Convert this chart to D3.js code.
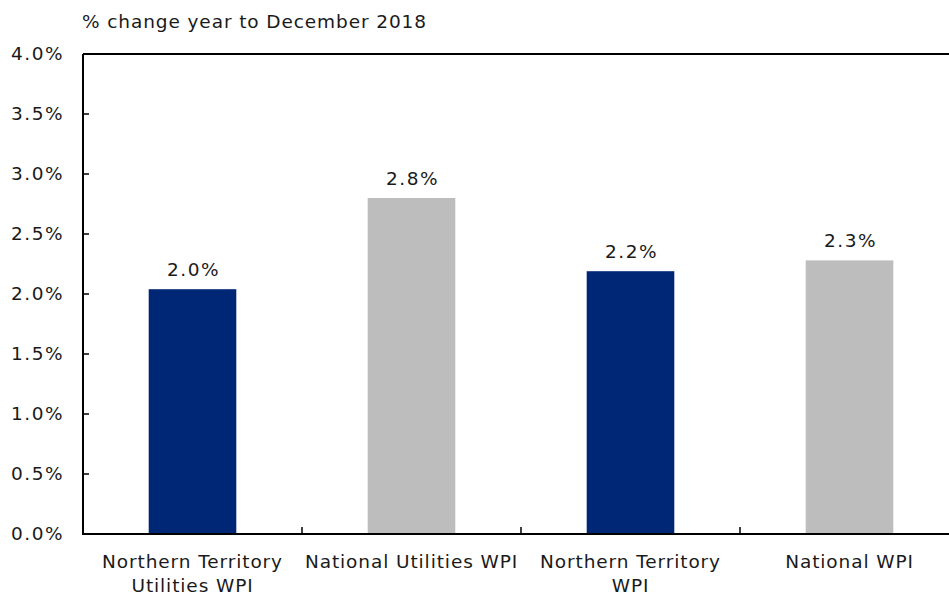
<!DOCTYPE html>
<html><head><meta charset="utf-8">
<script src="https://cdn.jsdelivr.net/npm/d3@7"></script>
<style>body{margin:0;background:#fff}svg{display:block}text{font-family:"DejaVu Sans",Verdana,sans-serif;fill:#1a1a1a}</style>
</head><body><svg id="c" width="949" height="594"></svg>
<script>
const categories = [["Northern Territory","Utilities WPI"],["National Utilities WPI"],["Northern Territory","WPI"],["National WPI"]];
const values = [2.04, 2.8, 2.19, 2.28];
const labels = ["2.0%","2.8%","2.2%","2.3%"];
const colors = ["#002776","#bcbdbc","#002776","#bcbdbc"];
const yTicks = [0,0.5,1,1.5,2,2.5,3,3.5,4];
const title = "% change year to December 2018";

const svg = d3.select("#c");
const m = {l:83, r:959, t:54, b:534};
const x = d3.scaleBand().domain(d3.range(categories.length)).range([m.l, m.r]).paddingInner(0.6).paddingOuter(0.3);
const xb = d3.scaleBand().domain(d3.range(categories.length)).range([m.l, m.r]);
const y = d3.scaleLinear().domain([0,4]).range([m.b, m.t]);
const fs = 18.5;
const lsT = "0.9px", lsN = "1.5px";

svg.append("text").attr("x", 82).attr("y", 28).attr("font-size", fs).attr("letter-spacing", lsT).text(title);

svg.selectAll("rect.bar").data(values).join("rect").attr("class","bar")
  .attr("x",(d,i)=>x(i)).attr("width",x.bandwidth())
  .attr("y",d=>y(d)).attr("height",d=>y(0)-y(d)).attr("fill",(d,i)=>colors[i]);

svg.selectAll("text.val").data(values).join("text").attr("class","val")
  .attr("x",(d,i)=>x(i)+x.bandwidth()/2+1).attr("y",d=>y(d)-13)
  .attr("text-anchor","middle").attr("font-size",fs).attr("letter-spacing", lsN).text((d,i)=>labels[i]);

// y axis
const ya = d3.axisLeft(y).tickValues(yTicks).tickSize(0).tickPadding(19).tickFormat(d=>d3.format(".1f")(d)+"%");
const yg = svg.append("g").attr("transform",`translate(${m.l},0)`).call(ya);
yg.select(".domain").remove();
yg.selectAll("text").attr("font-size",fs).attr("font-family","DejaVu Sans").attr("fill","#1a1a1a").attr("letter-spacing", lsN);
svg.selectAll("line.yt").data(yTicks).join("line").attr("class","yt")
  .attr("x1",m.l).attr("x2",m.l+6).attr("y1",d=>y(d)).attr("y2",d=>y(d)).attr("stroke","#000").attr("stroke-width",1.5);

// frame
svg.append("line").attr("x1",m.l).attr("x2",m.l).attr("y1",m.t).attr("y2",m.b).attr("stroke","#000").attr("stroke-width",2);
svg.append("line").attr("x1",m.l).attr("x2",m.r).attr("y1",m.t).attr("y2",m.t).attr("stroke","#000").attr("stroke-width",2);
svg.append("line").attr("x1",m.l-1).attr("x2",m.r).attr("y1",m.b).attr("y2",m.b).attr("stroke","#000").attr("stroke-width",2);
// x ticks at boundaries
svg.selectAll("line.xt").data(d3.range(1,categories.length)).join("line").attr("class","xt")
  .attr("x1",d=>xb(d)).attr("x2",d=>xb(d)).attr("y1",m.b).attr("y2",m.b-7).attr("stroke","#000").attr("stroke-width",1.5);

// x labels
const xl = svg.selectAll("text.cat").data(categories).join("text").attr("class","cat")
  .attr("text-anchor","middle").attr("font-size",fs).attr("letter-spacing", lsT)
  .attr("transform",(d,i)=>`translate(${xb(i)+xb.bandwidth()/2},${m.b+34})`);
xl.selectAll("tspan").data(d=>d).join("tspan").attr("x",0).attr("dy",(d,j)=>j?23.5:0).text(d=>d);
</script></body></html>
